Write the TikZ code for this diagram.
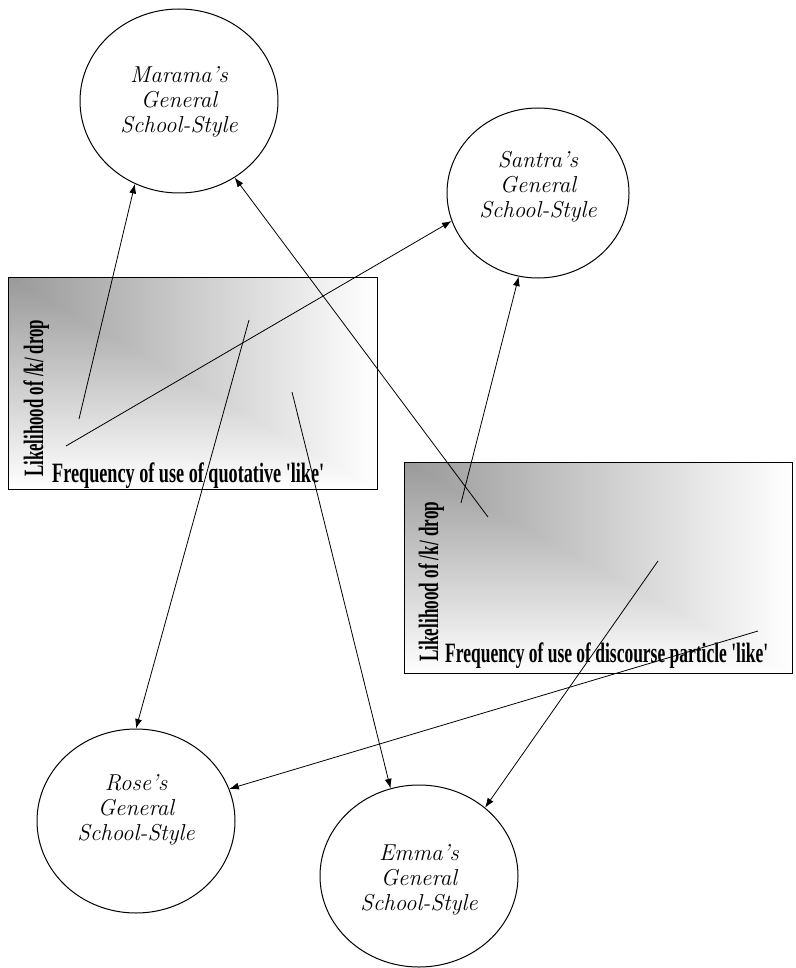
\documentclass[tikz,border=0pt]{standalone}
\usepackage{fontspec}
\newfontfamily\tnr[Ligatures=TeXOff]{Liberation Serif}
\usetikzlibrary{arrows.meta,shapes.geometric,backgrounds}
\definecolor{shadedark}{gray}{0.6}
\definecolor{shademid}{gray}{0.83}
\newcommand{\boxlabel}[2]{\resizebox{#1}{\height}{\tnr\bfseries\fontsize{28}{30}\selectfont #2}}
\begin{document}
\begin{tikzpicture}[x=1pt,y=-1pt,
  school/.style={draw, ellipse, line width=1pt, minimum width=198pt, minimum height=184pt,
    inner sep=0pt, align=center, text depth=10pt,
    font=\fontsize{23}{25}\selectfont\itshape},
  panel/.style={draw, line width=0.9pt, inner sep=0pt, anchor=north west},
  axislabel/.style={inner sep=0pt, anchor=base west},
  fadex/.style={left color=shadedark, middle color=shademid, right color=white},
  fadey/.style={top color=shadedark, middle color=shademid, bottom color=white},
  link/.style={line width=0.8pt, -{Latex[length=9.5pt,width=7pt]}}
]
\path[use as bounding box] (0,0) rectangle (795,968);

% panels
\node[panel, minimum width=369pt, minimum height=212pt] (box1) at (8,277) {};
\node[panel, minimum width=388pt, minimum height=211pt] (box2) at (404,462) {};

% corner gradient: horizontal fade above the diagonal, vertical fade below it
\begin{scope}[on background layer]
  \shade[fadex] (box1.north west) rectangle (box1.south east);
  \shade[fadey] (box1.north west) -- (box1.south east) -- (box1.south west) -- cycle;
  \shade[fadex] (box2.north west) rectangle (box2.south east);
  \shade[fadey] (box2.north west) -- (box2.south east) -- (box2.south west) -- cycle;
\end{scope}

% axis labels
\node[axislabel] (freq1) at (52,482) {\boxlabel{272pt}{Frequency of use of quotative 'like'}};
\node[axislabel, rotate=90] (kdrop1) at (43,477) {\boxlabel{157pt}{Likelihood of /k/ drop}};
\node[axislabel] (freq2) at (445,662) {\boxlabel{323pt}{Frequency of use of discourse particle 'like'}};
\node[axislabel, rotate=90] (kdrop2) at (438,662) {\boxlabel{160pt}{Likelihood of /k/ drop}};

% school-style circles
\node[school, text height=74pt] (marama) at (179,101) {Marama's\\General\\School-Style};
\node[school, minimum width=182pt, minimum height=170pt, text height=60pt] (santra) at (538,193) {Santra's\\General\\School-Style};
\node[school, text height=48pt] (rose) at (136,821) {Rose's\\General\\School-Style};
\node[school, minimum height=182pt, text height=78pt] (emma) at (419,876) {Emma's\\General\\School-Style};

% arrow origins inside the panels
\coordinate (s1) at (79,419);
\coordinate (s2) at (66,446);
\coordinate (s3) at (249,320);
\coordinate (s4) at (292,392);
\coordinate (s5) at (488,517);
\coordinate (s6) at (461,503);
\coordinate (s7) at (658,561);
\coordinate (s8) at (758,631);

\draw[link] (s1) -- (marama.-118);
\draw[link] (s2) -- (santra.-162);
\draw[link] (s3) -- (rose.90);
\draw[link] (s4) -- (emma.108);
\draw[link] (s5) -- (marama.-54);
\draw[link] (s6) -- (santra.-103);
\draw[link] (s7) -- (emma.46);
\draw[link] (s8) -- (rose.19);
\end{tikzpicture}
\end{document}
